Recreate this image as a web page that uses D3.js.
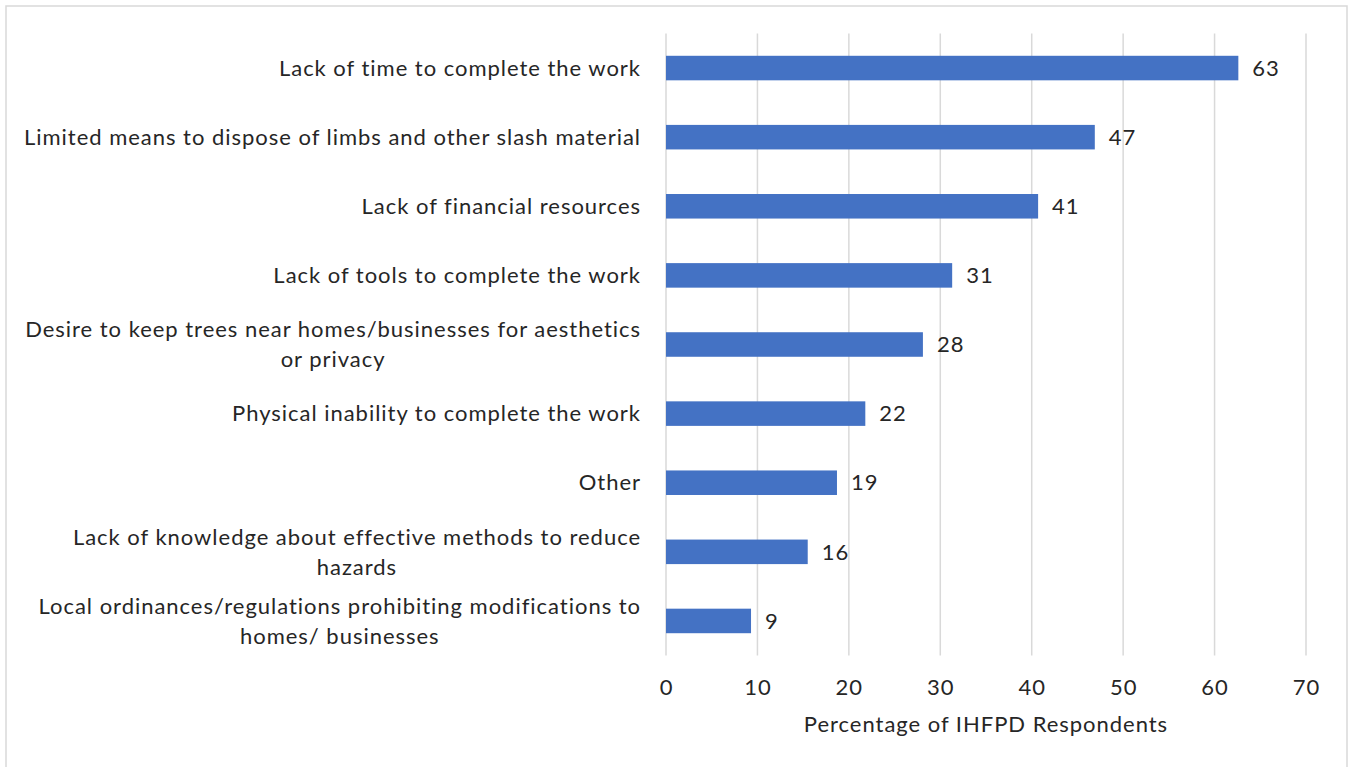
<!DOCTYPE html>
<html>
<head>
<meta charset="utf-8">
<script src="https://cdn.jsdelivr.net/npm/d3@7"></script>
<style>
  html, body { margin: 0; padding: 0; background: #fff; }
  svg { display: block; }
</style>
</head>
<body>
<svg id="chart" width="1348" height="767"></svg>
<script>
const categories = [
  "Lack of time to complete the work",
  "Limited means to dispose of limbs and other slash material",
  "Lack of financial resources",
  "Lack of tools to complete the work",
  "Desire to keep trees near homes/businesses for aesthetics\nor privacy",
  "Physical inability to complete the work",
  "Other",
  "Lack of knowledge about effective methods to reduce\nhazards",
  "Local ordinances/regulations prohibiting modifications to\nhomes/ businesses"
];
const values = [62.6, 46.9, 40.7, 31.3, 28.1, 21.8, 18.7, 15.5, 9.3];
const xTicks = [0, 10, 20, 30, 40, 50, 60, 70];
const xTitle = "Percentage of IHFPD Respondents";

const svg = d3.select("#chart");
const W = 1348, H = 767;
const margin = { left: 666, right: 42, top: 33.5, bottom: 111.5 };
const fontFamily = "Lato, 'Open Sans', sans-serif";
const textColor = "#262626";
const fs = 22;

// outer chart border
svg.append("rect")
  .attr("x", 6).attr("y", 6)
  .attr("width", 1341).attr("height", 800)
  .attr("fill", "#fff")
  .attr("stroke", "#d9d9d9").attr("stroke-width", 1.5);

// letter spacing so the longest single-line label spans the reference width
const probe = svg.append("text").attr("font-family", fontFamily).attr("font-size", fs)
  .text(categories[1]);
const measured = probe.node().getComputedTextLength();
probe.remove();
const ls = Math.max(0, Math.min(2, (616 - measured) / (categories[1].length - 1)));

const x = d3.scaleLinear().domain([0, 70]).range([margin.left, W - margin.right]);
const y = d3.scaleBand().domain(categories)
  .range([margin.top, H - margin.bottom])
  .paddingInner(0.645).paddingOuter(0.3225);

// gridlines
svg.append("g")
  .selectAll("line").data(xTicks).join("line")
  .attr("x1", d => x(d)).attr("x2", d => x(d))
  .attr("y1", margin.top).attr("y2", H - margin.bottom)
  .attr("stroke", "#d9d9d9").attr("stroke-width", 1.5);

// bars
svg.append("g")
  .selectAll("rect").data(values).join("rect")
  .attr("x", x(0))
  .attr("y", (d, i) => y(categories[i]))
  .attr("width", d => x(d) - x(0))
  .attr("height", y.bandwidth())
  .attr("fill", "#4472C4");

// data labels
svg.append("g")
  .selectAll("text").data(values).join("text")
  .attr("x", d => x(d) + 14)
  .attr("y", (d, i) => y(categories[i]) + y.bandwidth() / 2)
  .attr("dy", "0.35em")
  .attr("font-family", fontFamily).attr("font-size", fs)
  .attr("letter-spacing", ls)
  .attr("fill", textColor)
  .text(d => d3.format(".0f")(d));

// category labels (wrapped lines centered within a right-aligned block)
const catG = svg.append("g");
categories.forEach(c => {
  const lines = c.split("\n");
  const cy = y(c) + y.bandwidth() / 2;
  const lh = 30;
  const t = catG.append("text")
    .attr("font-family", fontFamily).attr("font-size", fs)
    .attr("letter-spacing", ls)
    .attr("fill", textColor);
  const spans = lines.map((ln, k) =>
    t.append("tspan").attr("y", cy + (k - (lines.length - 1) / 2) * lh).attr("dy", "0.35em").text(ln));
  const widths = spans.map(s => s.node().getComputedTextLength());
  const maxW = d3.max(widths);
  const right = x(0) - 25;
  const center = right - maxW / 2;
  spans.forEach(s => s.attr("x", center).attr("text-anchor", "middle"));
});

// x axis tick labels
const axis = d3.axisBottom(x).tickValues(xTicks).tickSize(0).tickPadding(0).tickFormat(d3.format("d"));
const ax = svg.append("g").attr("transform", `translate(0, ${H - margin.bottom})`).call(axis);
ax.select(".domain").remove();
ax.selectAll("text")
  .attr("y", 32).attr("dy", "0.35em")
  .attr("font-family", fontFamily).attr("font-size", fs)
  .attr("letter-spacing", ls)
  .attr("fill", textColor);

// axis title
svg.append("text")
  .attr("x", (x(0) + x(70)) / 2).attr("y", 724).attr("dy", "0.35em")
  .attr("text-anchor", "middle")
  .attr("font-family", fontFamily).attr("font-size", fs)
  .attr("letter-spacing", ls)
  .attr("fill", textColor)
  .text(xTitle);
</script>
</body>
</html>
